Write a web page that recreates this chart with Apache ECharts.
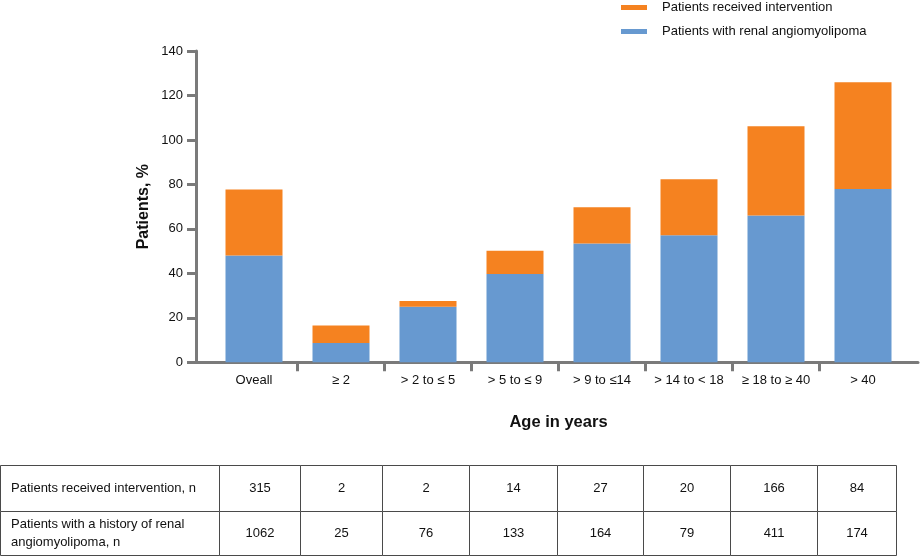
<!DOCTYPE html>
<html>
<head>
<meta charset="utf-8">
<script src="https://cdn.jsdelivr.net/npm/echarts@6/dist/echarts.min.js"></script>
<style>
html,body{margin:0;padding:0;background:#fff;}
#chart{width:922px;height:557px;}
</style>
</head>
<body>
<div id="chart"></div>
<script>
var categories = ['Oveall', '\u2265 2', '> 2 to \u2264 5', '> 5 to \u2264 9', '> 9 to \u226414', '> 14 to < 18', '\u2265 18 to \u2265 40', '> 40'];
var renalAML = [48, 8.7, 25, 39.7, 53.4, 57.1, 66, 77.9];
var intervention = [29.7, 7.9, 2.6, 10.5, 16.3, 25.2, 40.2, 48.1];
var tableRowLabels = ['Patients received intervention, n', 'Patients with a history of renal\nangiomyolipoma, n'];
var tableInterventionN = ['315', '2', '2', '14', '27', '20', '166', '84'];
var tableHistoryN = ['1062', '25', '76', '133', '164', '79', '411', '174'];
var yTicks = [0, 20, 40, 60, 80, 100, 120, 140];

var FONT = '"Liberation Sans", Arial, sans-serif';
var AXIS_COLOR = '#7a7a7a';

// table layout
var colX = [0.5, 219.5, 300.5, 382.5, 469.5, 557.5, 643.5, 730.5, 817.5, 896.5];
var rowY = [465.5, 511.5, 555.5];
var graphics = [];
var rows = [tableInterventionN, tableHistoryN];
for (var r = 0; r < 2; r++) {
  for (var c = 0; c < colX.length - 1; c++) {
    graphics.push({
      type: 'rect', silent: true,
      shape: {x: colX[c], y: rowY[r], width: colX[c + 1] - colX[c], height: rowY[r + 1] - rowY[r]},
      style: {fill: '#fff', stroke: '#4a4a4a', lineWidth: 1}
    });
    var cy = (rowY[r] + rowY[r + 1]) / 2;
    if (c === 0) {
      graphics.push({
        type: 'text', silent: true, x: 11, y: cy,
        style: {text: tableRowLabels[r], font: '13px ' + FONT, fill: '#111', align: 'left', verticalAlign: 'middle', lineHeight: 18}
      });
    } else {
      graphics.push({
        type: 'text', silent: true, x: (colX[c] + colX[c + 1]) / 2, y: cy,
        style: {text: rows[r][c - 1], font: '13px ' + FONT, fill: '#111', align: 'center', verticalAlign: 'middle'}
      });
    }
  }
}

var chart = echarts.init(document.getElementById('chart'), null, {renderer: 'canvas'});
chart.setOption({
  animation: false,
  textStyle: {fontFamily: FONT},
  legend: {
    orient: 'vertical', left: 621, top: 1, padding: 0, itemGap: 11,
    itemWidth: 26, itemHeight: 5, icon: 'rect',
    textStyle: {fontSize: 13, color: '#111', fontFamily: FONT, padding: [0, 0, 0, 10]},
    data: ['Patients received intervention', 'Patients with renal angiomyolipoma']
  },
  grid: [
    {left: 210.5, right: 15.5, top: 51, bottom: 194.7},
    {left: 196, right: 4, top: 51, bottom: 194.7}
  ],
  xAxis: [
    {
      type: 'category', gridIndex: 0, data: categories,
      axisLine: {show: false}, axisTick: {show: false},
      axisLabel: {margin: 12, fontSize: 13, color: '#111', fontFamily: FONT, interval: 0},
      name: 'Age in years', nameLocation: 'middle', nameGap: 52, nameMoveOverlap: false,
      nameTextStyle: {fontSize: 16.5, fontWeight: 'bold', color: '#111', fontFamily: FONT}
    },
    {
      type: 'value', gridIndex: 1, min: -0.167, max: 8.132,
      axisLine: {show: true, onZero: false, lineStyle: {color: AXIS_COLOR, width: 3}},
      axisTick: {show: true, length: 9, customValues: [1, 2, 3, 4, 5, 6, 7], lineStyle: {color: AXIS_COLOR, width: 3}},
      axisLabel: {show: false}, splitLine: {show: false}
    }
  ],
  yAxis: [
    {type: 'value', gridIndex: 0, min: 0, max: 140, show: false, splitLine: {show: false}},
    {
      type: 'value', gridIndex: 1, min: 0, max: 140, interval: 20,
      axisLine: {show: true, onZero: false, lineStyle: {color: AXIS_COLOR, width: 3}},
      axisTick: {show: true, length: 9, lineStyle: {color: AXIS_COLOR, width: 3}},
      axisLabel: {margin: 13, fontSize: 13, color: '#111', fontFamily: FONT,
        customValues: yTicks},
      splitLine: {show: false},
      name: 'Patients, %', nameLocation: 'middle', nameGap: 44, nameRotate: 90, nameMoveOverlap: false,
      nameTextStyle: {fontSize: 16, fontWeight: 'bold', color: '#111', fontFamily: FONT}
    }
  ],
  series: [
    {
      name: 'Patients with renal angiomyolipoma', type: 'bar', stack: 'total',
      xAxisIndex: 0, yAxisIndex: 0, barWidth: 57, data: renalAML,
      itemStyle: {color: '#6799d0'}
    },
    {
      name: 'Patients received intervention', type: 'bar', stack: 'total',
      xAxisIndex: 0, yAxisIndex: 0, barWidth: 57, data: intervention,
      itemStyle: {color: '#f58220'}
    }
  ],
  graphic: graphics
});
</script>
</body>
</html>
